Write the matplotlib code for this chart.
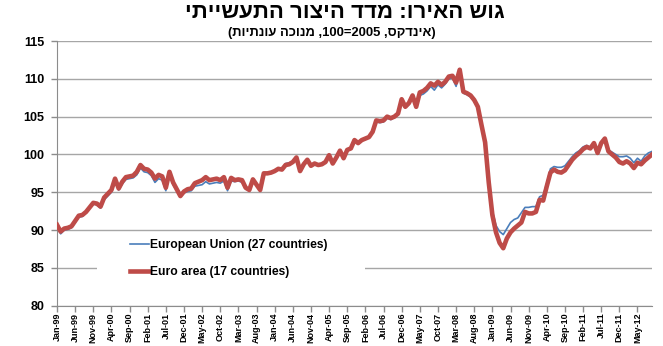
import re
import matplotlib
matplotlib.use("Agg")
import matplotlib.pyplot as plt
from matplotlib.patches import Rectangle
import numpy as np
import pandas as pd

plt.rcParams['font.family'] = ['Liberation Sans', 'DejaVu Sans']

# industrial production index, 2005=100, seasonally adjusted, monthly Jan-99 .. Sep-12
months = pd.date_range('1999-01-01', '2012-09-01', freq='MS')

eu27 = [
    90.6, 89.5, 90.0, 90.1, 90.3, 91.0, 91.7, 91.8, 92.3, 92.9, 93.5, 93.3,
    92.9, 94.0, 94.5, 95.0, 96.5, 95.3, 96.1, 96.7, 96.8, 96.9, 97.3, 98.2,
    97.7, 97.6, 97.2, 96.3, 96.8, 96.6, 95.2, 97.3, 96.0, 95.2, 94.4, 94.9,
    95.1, 95.2, 95.8, 95.9, 96.0, 96.4, 96.1, 96.2, 96.3, 96.2, 96.5, 95.2,
    96.5, 96.4, 96.5, 96.3, 95.5, 95.2, 96.5, 95.9, 95.3, 97.4, 97.4, 97.5,
    97.7, 98.0, 98.0, 98.8, 98.9, 99.0, 99.5, 97.9, 98.7, 99.2, 98.5, 98.7,
    98.6, 98.7, 99.0, 99.8, 98.8, 99.5, 100.4, 99.5, 100.5, 100.8, 101.8, 101.5,
    101.8, 102.0, 102.2, 102.9, 104.3, 104.2, 104.3, 104.8, 104.6, 104.9, 105.3, 107.1,
    106.2, 106.6, 107.5, 106.2, 107.8, 108.0, 108.4, 109.0, 108.5, 109.2, 108.8, 109.3,
    110.0, 110.1, 109.0, 110.8, 108.1, 107.9, 107.6, 107.0, 106.2, 104.0, 101.8, 96.6,
    92.6, 90.6, 89.8, 89.4, 90.2, 91.0, 91.4, 91.6, 92.3, 93.0, 93.0, 93.1,
    93.1, 94.4, 94.6, 96.2, 98.1, 98.4, 98.3, 98.3, 98.5, 99.1, 99.7, 100.2,
    100.5, 101.0, 101.2, 100.9, 101.5, 100.4, 101.5, 101.9, 100.6, 100.3, 100.0, 99.7,
    99.7, 99.8, 99.5, 98.9, 99.5, 99.1, 99.8, 100.2, 100.4,
]

ea17 = [
    90.7, 89.8, 90.2, 90.3, 90.5, 91.2, 91.9, 92.0, 92.4, 93.0, 93.6, 93.5,
    93.1, 94.3, 94.8, 95.3, 96.8, 95.5, 96.4, 97.0, 97.1, 97.2, 97.7, 98.6,
    98.1, 98.0, 97.6, 96.8, 97.3, 97.1, 95.6, 97.7, 96.3, 95.4, 94.5, 95.1,
    95.4, 95.5, 96.2, 96.4, 96.6, 97.0, 96.6, 96.7, 96.8, 96.6, 97.0, 95.6,
    96.9, 96.6, 96.7, 96.6, 95.6, 95.3, 96.7, 96.0, 95.3, 97.5, 97.5, 97.6,
    97.8, 98.1, 98.0, 98.6, 98.7, 99.0, 99.6, 97.8, 98.7, 99.3, 98.5, 98.8,
    98.6, 98.7, 99.0, 99.9, 98.8, 99.6, 100.5, 99.5, 100.6, 100.8, 101.9, 101.5,
    101.9, 102.1, 102.3, 103.0, 104.5, 104.4, 104.5, 105.0, 104.8, 105.0, 105.4, 107.3,
    106.3, 106.8, 107.8, 106.3, 108.2, 108.4, 108.8, 109.4, 109.1, 109.6, 109.2, 109.6,
    110.3, 110.4, 109.5, 111.2, 108.3, 108.1, 107.8, 107.2, 106.3, 103.9, 101.6, 96.3,
    92.0, 89.7, 88.3, 87.6, 88.9, 89.7, 90.2, 90.6, 91.0, 92.4, 92.2, 92.2,
    92.4, 94.0, 93.9, 95.8, 97.6, 98.0, 97.7, 97.6, 97.9, 98.6, 99.3, 99.8,
    100.2, 100.7, 101.0, 100.8, 101.5, 100.2, 101.5, 102.1, 100.4, 100.0, 99.6, 99.0,
    98.8, 99.1, 98.8, 98.2, 98.9, 98.7, 99.2, 99.6, 100.0,
]

title = 'גוש האירו: מדד היצור התעשייתי'
subtitle = '(אינדקס, 2005=100, מנוכה עונתיות)'
labels = ['European Union (27 countries)', 'Euro area (17 countries)']


def heb(s):
    # matplotlib has no bidi support: lay the string out right-to-left by hand
    s = s[::-1].translate(str.maketrans('()', ')('))
    return re.sub(r'[0-9]+', lambda m: m.group(0)[::-1], s)


x = np.arange(len(months))

fig = plt.figure(figsize=(6.63, 3.46), dpi=100)
ax = fig.add_axes([57 / 663, 1 - 305.7 / 346, 595 / 663, 264.7 / 346])

ax.plot(x, eu27, color='#4a7ebb', lw=1.2, label=labels[0], zorder=3)
ax.plot(x, ea17, color='#be4b48', lw=3.3, label=labels[1], zorder=4,
        solid_joinstyle='round')

ax.set_xlim(0, len(months) - 1)
ax.set_ylim(80, 115)
ax.set_yticks(np.arange(80, 116, 5))
ax.yaxis.grid(True, color='#a6a6a6', lw=1)
ax.set_axisbelow(True)

ticks = x[::5]
ax.set_xticks(ticks)
ax.set_xticklabels([months[i].strftime('%b-%y') for i in ticks],
                   rotation=90, fontsize=6.5, fontweight='bold')
for lab in ax.get_yticklabels():
    lab.set_fontsize(9)
    lab.set_fontweight('bold')

for side in ['top', 'right']:
    ax.spines[side].set_visible(False)
for side in ['left', 'bottom']:
    ax.spines[side].set_color('#8c8c8c')
ax.tick_params(axis='both', color='#8c8c8c', length=4, width=1)
ax.tick_params(axis='y', pad=5)
ax.tick_params(axis='x', pad=1)

# white legend area over the lower gridline
ax.add_patch(Rectangle((0.067, 0.06), 0.45, 0.2, transform=ax.transAxes,
                       facecolor='white', edgecolor='none', zorder=2))
leg = ax.legend(loc='upper left', bbox_to_anchor=(0.122, 0.252),
                frameon=False, prop={'size': 8.7, 'weight': 'bold'},
                handlelength=1.6, handletextpad=0.1,
                labelspacing=1.25, borderpad=0, borderaxespad=0)
leg.set_zorder(5)

fig.text(345 / 663, 1 - 13 / 346, heb(title), ha='center', va='center',
         fontsize=16, fontweight='bold')
fig.text(332 / 663, 1 - 33 / 346, heb(subtitle), ha='center', va='center',
         fontsize=9.4, fontweight='bold')

fig.savefig('out.png', dpi=100)
